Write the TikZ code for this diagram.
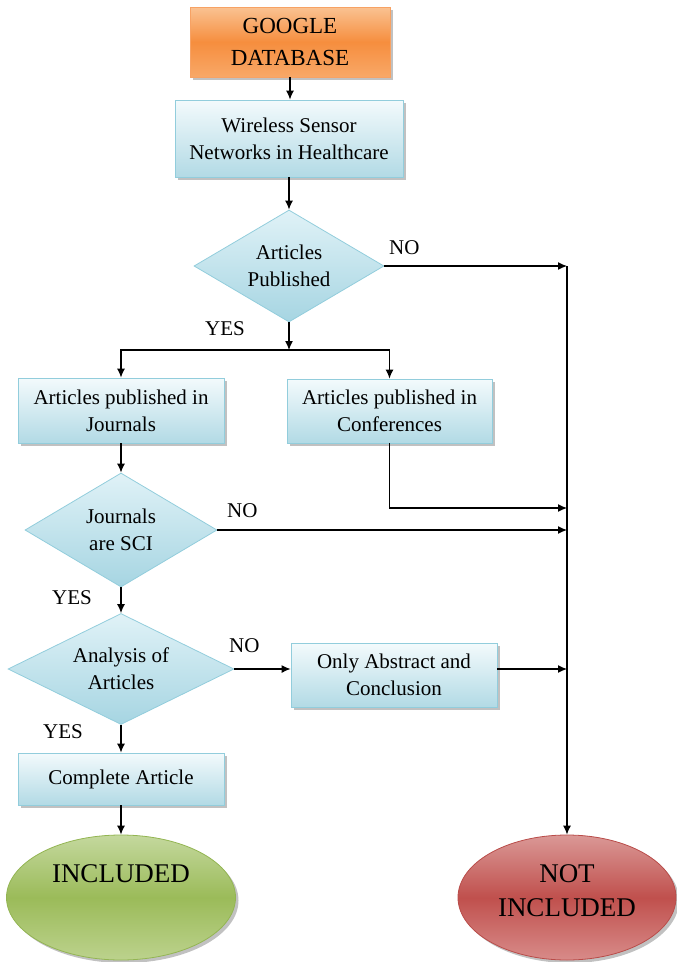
\documentclass[tikz,border=0pt]{standalone}
\usepackage{fontspec}
\setmainfont{Liberation Serif}
\usetikzlibrary{arrows.meta,shapes.geometric,shadows}

% Fill and edge colours
\definecolor{boxTop}{HTML}{F3FAFC}
\definecolor{boxBot}{HTML}{B2DAE5}
\definecolor{boxEdge}{HTML}{92CDDC}
\definecolor{decTop}{HTML}{E0F2F7}
\definecolor{decBot}{HTML}{A6D5E2}
\definecolor{orTop}{HTML}{FAC292}
\definecolor{orMid}{HTML}{F68E3E}
\definecolor{orBot}{HTML}{F8A868}
\definecolor{orEdge}{HTML}{F7A264}
\definecolor{grTop}{HTML}{C4D89E}
\definecolor{grMid}{HTML}{9BBB59}
\definecolor{grBot}{HTML}{BCD28D}
\definecolor{grEdge}{HTML}{93B552}
\definecolor{rdTop}{HTML}{DA9896}
\definecolor{rdMid}{HTML}{C0504D}
\definecolor{rdBot}{HTML}{D88B89}
\definecolor{rdEdge}{HTML}{B94C49}

\begin{document}
\begin{tikzpicture}[x=1pt,y=-1pt,
  every node/.style={font=\fontsize{21}{27}\selectfont, align=center, inner sep=0pt},
  shadowed/.style={drop shadow={shadow xshift=3pt,shadow yshift=-3pt,opacity=0.35,fill=black!70}},
  procbox/.style={rectangle, draw=boxEdge, line width=0.8pt,
    top color=boxTop, bottom color=boxBot, shadowed},
  decision/.style={diamond, aspect=1.7, draw=boxEdge, line width=0.8pt,
    top color=decTop, bottom color=decBot},
  sourcebox/.style={rectangle, draw=orEdge, line width=0.8pt,
    top color=orTop, bottom color=orBot, middle color=orMid, shadowed,
    font=\fontsize{23}{32}\selectfont},
  goodend/.style={ellipse, draw=grEdge, line width=0.8pt,
    top color=grTop, bottom color=grBot, middle color=grMid, shadowed},
  badend/.style={ellipse, draw=rdEdge, line width=0.8pt,
    top color=rdTop, bottom color=rdBot, middle color=rdMid, shadowed},
  endtext/.style={font=\fontsize{27}{34}\selectfont, align=center},
  flow/.style={line width=1.2pt, -{Latex[length=9pt,width=8pt]}},
  tag/.style={anchor=base west}
]
\useasboundingbox (0,0) rectangle (677,962);

% Source and topic
\node[sourcebox, minimum width=200pt, minimum height=70pt] (google) at (290,42) {GOOGLE\\DATABASE};
\node[procbox, minimum width=228pt, minimum height=77pt] (wsn) at (289,138.5) {Wireless Sensor\\Networks in Healthcare};

% First decision and its two branches
\node[decision, minimum width=190pt, minimum height=112pt] (d1) at (289,266) {Articles\\Published};
\node[procbox, minimum width=206pt, minimum height=65pt] (jbox) at (121,410.5) {Articles published in\\Journals};
\node[procbox, minimum width=205pt, minimum height=64pt] (cbox) at (389.5,411) {Articles published in\\Conferences};

% Journal checks
\node[decision, minimum width=192pt, minimum height=114pt] (d2) at (121,530) {Journals\\are SCI};
\node[decision, minimum width=226pt, minimum height=111pt] (d3) at (121,669) {Analysis of\\Articles};
\node[procbox, minimum width=206pt, minimum height=64pt] (obox) at (394,675) {Only Abstract and\\Conclusion};
\node[procbox, minimum width=206pt, minimum height=52pt] (cabox) at (121,779) {Complete Article};

% Outcomes
\node[goodend, minimum width=229pt, minimum height=125pt,
  label={[endtext, yshift=23.5pt]center:INCLUDED}] (inc) at (121,897.5) {};
\node[badend, minimum width=218pt, minimum height=125pt,
  label={[endtext, yshift=6.5pt]center:{NOT\\INCLUDED}}] (notinc) at (567,897.5) {};

% Branch labels
\node[tag] (no1) at (389,254) {NO};
\node[tag] (yes1) at (205,335) {YES};
\node[tag] (no2) at (227,517) {NO};
\node[tag] (yes2) at (52,604) {YES};
\node[tag] (no3) at (229,652) {NO};
\node[tag] (yes3) at (43,738) {YES};

% Junction points
\coordinate (split) at (289,350);
\coordinate (busTop) at (567,266);
\coordinate (busConf) at (567,508);

% Connectors
\draw[flow] (google.south) -- (google.south |- wsn.north);
\draw[flow] (wsn) -- (d1);
\draw[flow] (d1.south) -- (split);
\draw[flow] (split) -| (jbox.north);
\draw[flow] (split) -| (cbox.north);
\draw[flow] (d1.east) -- (busTop);
\draw[flow] (busTop) -- (notinc.north);
\draw[flow] (cbox.south) |- (busConf);
\draw[flow] (jbox) -- (d2);
\draw[flow] (d2.east) -- (d2.east -| busTop);
\draw[flow] (d2) -- (d3);
\draw[flow] (d3.east) -- (d3.east -| obox.west);
\draw[flow] (obox.east |- d3.east) -- (d3.east -| busTop);
\draw[flow] (d3) -- (cabox);
\draw[flow] (cabox) -- (inc);
\end{tikzpicture}
\end{document}
